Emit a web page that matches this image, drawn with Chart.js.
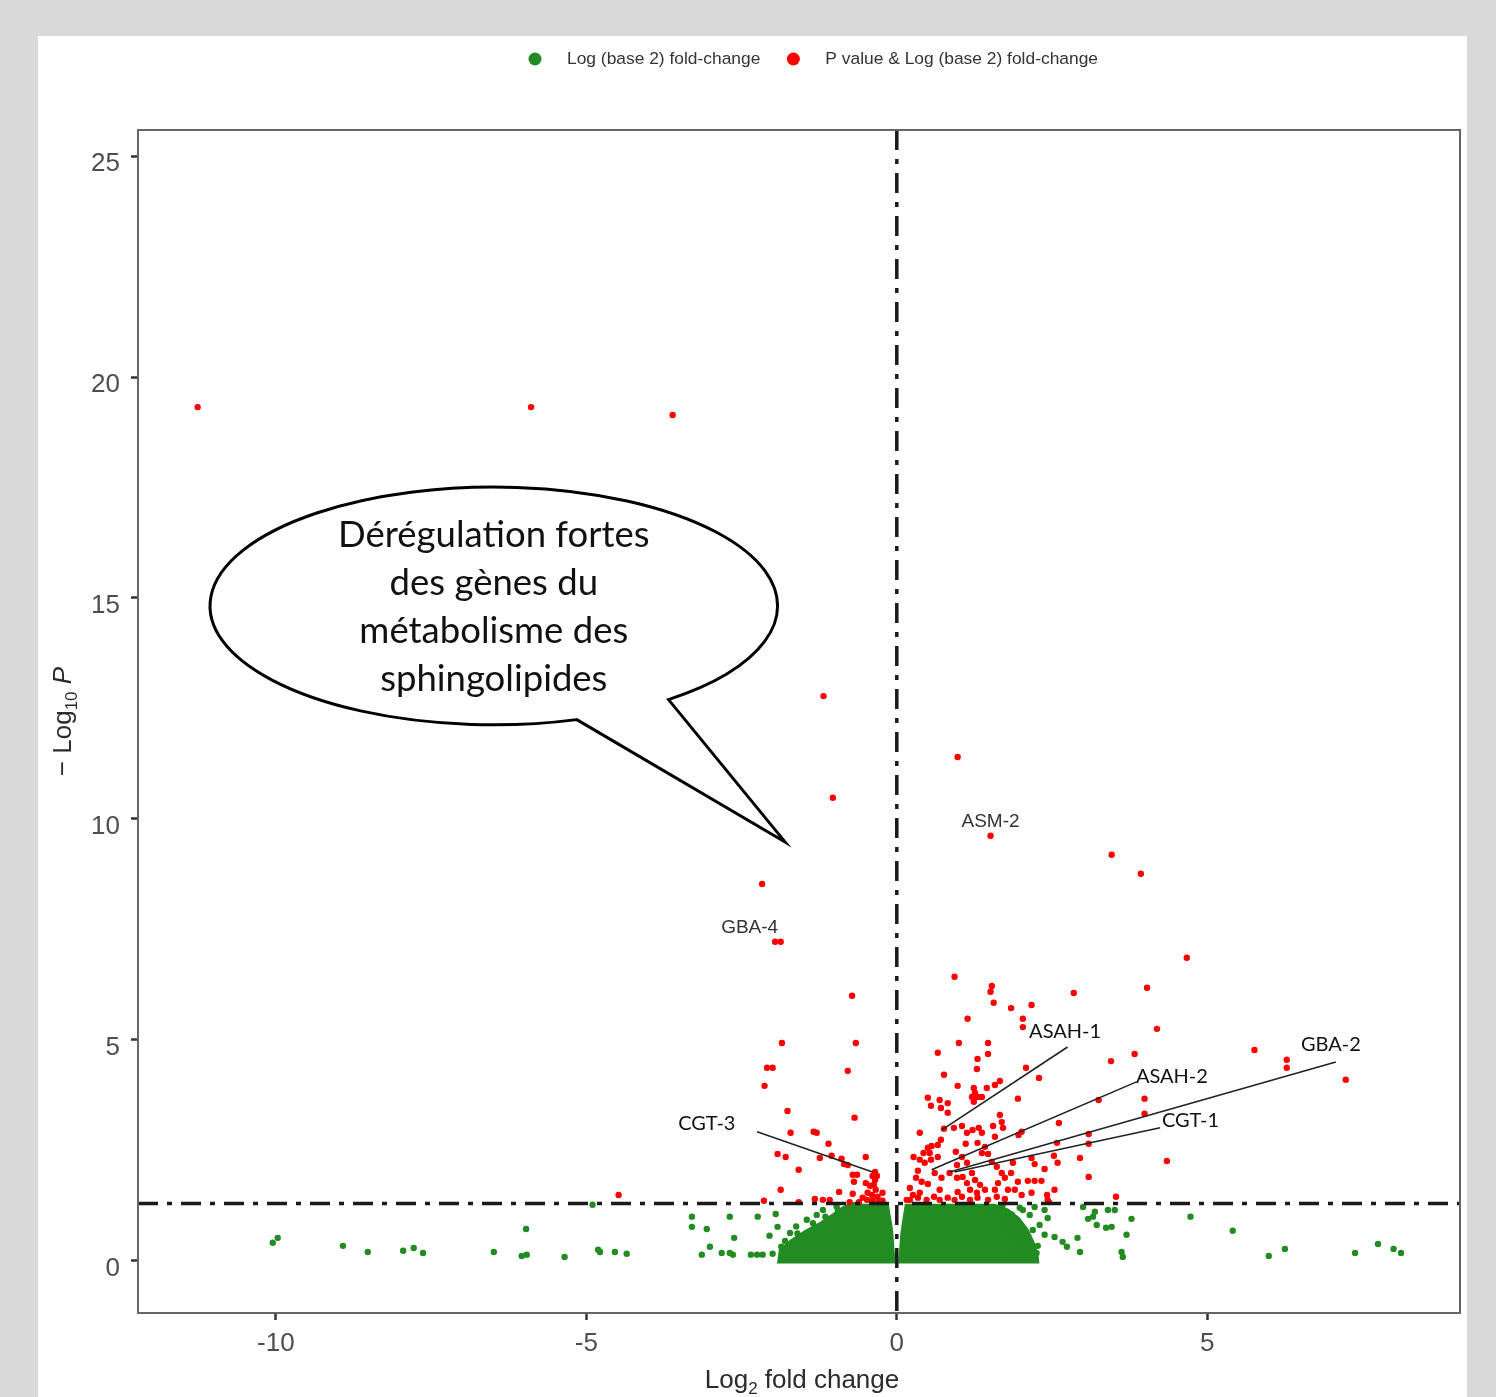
<!DOCTYPE html>
<html lang="fr">
<head>
  <meta charset="UTF-8">
  <title>Volcano plot</title>
  <script src="https://cdn.jsdelivr.net/npm/chart.js"></script>
  <style>
    body { margin: 0; background: #d9d9d9; }
    #panel { position: absolute; left: 38px; top: 36px; width: 1429px; height: 1361px; background: #fff; }
    #volcano { position: absolute; left: 0; top: 0; }
  </style>
</head>
<body>
  <div id="panel"></div>
  <canvas id="volcano" width="1496" height="1397"></canvas>
  <script>
    // axes
    const xMin = -12.22, xMax = 9.07;
    const yMin = -1.18, yMax = 25.59;
    const xTicks = [-10, -5, 0, 5];
    const yTicks = [0, 5, 10, 15, 20, 25];
    const pCutoff = 1.30;   // -log10(0.05)
    const fcCutoff = 0;

    const legendLabels = ['Log (base 2) fold-change', 'P value & Log (base 2) fold-change'];

    // significant genes (red): log2 fold change / -log10 P
    const redFC = [
      -11.26, -5.89, -3.61, -1.18, 0.98, -1.03, 1.51, 3.46, 3.93, -2.17,
      -1.96, -1.87, 4.67, 0.93, 1.53, 1.51, 2.85, -0.72, 4.03, 1.56,
      1.84, 2.17, 1.14, 2.03, 2.03, 4.19, -1.85, -0.66, 0.66, 1.00,
      1.47, 1.47, 5.76, 3.83, 6.28, 6.28, 7.23, -2.09, -2.00, -0.79,
      -2.13, 3.45, 1.30, 1.29, 0.76, 2.08, 2.29, 0.98, 1.24, 1.26,
      1.21, 1.30, 1.24, 1.37, 1.45, 1.58, 1.66, 0.50, 0.55, 0.69,
      0.82, 0.71, 0.82, 1.95, 1.66, 1.69, 1.71, 0.37, 0.76, 0.92,
      1.05, 1.13, 1.22, 1.32, 1.37, 1.55, 1.58, 2.01, 1.96, 2.61,
      0.71, 0.66, 0.50, 0.43, 0.53, 0.27, 0.37, 0.45, 0.55, 0.66,
      1.11, 1.30, 1.42, 1.37, 1.47, 0.95, 1.05, 1.13, 0.97, 1.53,
      1.61, 1.69, 1.74, 1.87, 1.84, 2.17, 2.22, 2.38, 2.58, 2.53,
      2.59, 0.34, 0.31, 0.40, 0.50, 0.61, 0.72, 0.85, 0.97, 1.06,
      1.13, 1.21, 1.26, 1.34, 1.42, 1.58, 1.63, 1.79, 1.95, 2.11,
      2.22, 2.33, 1.90, 2.01, 2.17, 2.42, 2.54, 0.21, 0.34, 0.48,
      0.60, 0.69, 0.82, 0.93, 1.05, 1.18, 1.30, 1.47, 1.61, 1.74,
      2.43, 2.45, 0.37, 0.69, 0.98, 1.18, 1.29, 2.95, 4.35, 3.99,
      3.99, 3.25, 3.09, 3.09, 3.09, 3.53, 0.56, 0.26, 0.21, 0.16,
      -1.76, -0.68, -1.71, -1.34, -1.29, -1.10, -1.92, -1.79, -1.24, -1.05,
      -0.89, -0.50, -0.79, -0.85, -1.58, -0.35, -0.39, -0.32, -0.71, -0.64,
      -0.69, -0.35, -0.37, -0.34, -1.87, -0.93, -0.71, -0.47, -0.40, -0.31,
      -0.23, -0.55, -0.48, -0.39, -0.29, -0.23, -2.14, -1.58, -1.32, -1.19,
      -1.08, -0.76, -0.61, -4.48, -0.43, -0.50
    ];
    const redLogP = [
      19.32, 19.32, 19.14, 12.78, 11.40, 10.48, 9.62, 9.19, 8.76, 8.53,
      7.22, 7.22, 6.86, 6.43, 6.22, 6.09, 6.06, 6.00, 6.18, 5.84,
      5.72, 5.79, 5.48, 5.48, 5.29, 5.25, 4.93, 4.93, 4.71, 4.93,
      4.93, 4.68, 4.77, 4.68, 4.55, 4.37, 4.10, 4.37, 4.37, 4.30,
      3.96, 4.52, 4.57, 4.34, 4.21, 4.37, 4.14, 3.96, 3.91, 3.80,
      3.71, 3.71, 3.60, 3.71, 3.91, 3.98, 4.07, 3.69, 3.51, 3.64,
      3.57, 3.46, 3.35, 3.67, 3.30, 3.14, 3.01, 2.90, 2.99, 3.01,
      3.05, 2.90, 2.96, 3.01, 2.90, 3.05, 2.81, 2.92, 2.85, 3.12,
      2.74, 2.62, 2.56, 2.44, 2.44, 2.35, 2.29, 2.22, 2.29, 2.35,
      2.65, 2.67, 2.58, 2.44, 2.42, 2.47, 2.35, 2.22, 2.17, 2.24,
      2.13, 1.99, 1.88, 2.22, 1.99, 2.33, 2.19, 2.08, 2.67, 2.38,
      2.22, 2.04, 1.88, 1.79, 1.74, 1.99, 1.88, 1.99, 1.88, 1.90,
      1.76, 1.99, 1.83, 1.72, 1.61, 1.61, 1.76, 1.61, 1.79, 1.81,
      1.81, 1.81, 1.61, 1.49, 1.54, 1.49, 1.61, 1.38, 1.43, 1.38,
      1.45, 1.38, 1.43, 1.38, 1.45, 1.38, 1.43, 1.38, 1.45, 1.40,
      1.38, 1.33, 1.54, 1.61, 1.56, 1.61, 1.54, 2.33, 2.26, 3.67,
      3.33, 3.64, 2.87, 2.65, 1.90, 1.45, 2.60, 1.49, 1.65, 1.38,
      3.39, 3.24, 2.90, 2.92, 2.90, 2.65, 2.42, 2.35, 2.33, 2.38,
      2.31, 2.35, 2.17, 2.19, 2.06, 2.01, 1.92, 1.92, 1.95, 1.95,
      1.79, 1.83, 1.72, 1.61, 1.61, 1.56, 1.52, 1.54, 1.49, 1.45,
      1.54, 1.43, 1.38, 1.36, 1.33, 1.36, 1.36, 1.33, 1.40, 1.38,
      1.38, 1.33, 1.33, 1.49, 1.70, 1.76
    ];

    // non significant genes (green), the scattered ones
    const greenFC = [
      -10.05, -9.97, -8.92, -8.52, -7.95, -7.78, -7.63, -6.49, -6.04, -5.96,
      -5.97, -5.35, -4.81, -4.78, -4.54, -4.35, -4.90, -3.30, -3.30, -3.06,
      -2.69, -2.62, -2.69, -2.64, -3.14, -3.01, -2.82, -2.24, -2.35, -2.25,
      -2.16, -2.05, -2.00, -1.95, -1.92, -1.72, -1.62, -1.45, -1.29, -1.19,
      -0.97, -1.86, -1.80, -1.60, -1.35, -1.15, -0.95, -0.70,
      2.43, 2.54, 2.67, 2.74, 2.91, 2.95, 3.00, 3.16, 3.22, 3.40,
      3.51, 3.46, 3.78, 3.62, 3.64, 3.70, 3.19, 3.08, 3.37, 4.73,
      5.41, 5.99, 6.25, 7.38, 7.75, 8.00, 8.12, 1.66, 1.79, 1.93,
      1.55, 2.14, 2.30, 2.38, 2.27, 2.06, 1.98, 2.22, 2.38, 2.03,
      2.19, 2.25, 1.93, 1.70, 1.85, 2.00, 2.10, 2.15, 2.18
    ];
    const greenLogP = [
      0.41, 0.52, 0.34, 0.20, 0.23, 0.29, 0.18, 0.20, 0.11, 0.14,
      0.72, 0.09, 0.25, 0.20, 0.20, 0.16, 1.27, 1.00, 0.77, 0.72,
      1.00, 0.52, 0.18, 0.14, 0.14, 0.32, 0.18, 1.00, 0.14, 0.14,
      0.14, 0.57, 0.16, 1.06, 0.77, 0.63, 0.78, 0.93, 1.04, 1.15,
      1.23, 0.32, 0.45, 0.62, 0.85, 1.00, 1.15, 1.26,
      0.97, 0.54, 0.43, 0.32, 0.52, 0.20, 1.22, 1.00, 0.81, 1.15,
      1.15, 0.77, 0.95, 0.20, 0.09, 0.59, 1.11, 0.95, 0.75, 1.00,
      0.68, 0.11, 0.27, 0.18, 0.38, 0.27, 0.18, 1.09, 0.86, 0.63,
      1.15, 1.04, 0.81, 0.59, 0.34, 0.25, 1.20, 1.22, 1.15, 1.15,
      0.70, 0.18, 0.18, 1.25, 1.05, 0.80, 0.55, 0.30, 0.10
    ];

    // outline of the dense green mass (thousands of overlapping points)
    const coreLeftFC = [-1.93, -1.90, -1.72, -1.48, -1.24, -1.05, -0.89, -0.79, -0.13, -0.06, -0.02];
    const coreLeftLogP = [-0.06, 0.25, 0.48, 0.70, 0.88, 1.06, 1.22, 1.29, 1.29, 0.70, -0.06];
    const coreRightFC = [0.02, 0.06, 0.13, 1.58, 1.80, 1.98, 2.12, 2.22, 2.28, 2.30];
    const coreRightLogP = [-0.06, 0.66, 1.29, 1.29, 1.18, 0.98, 0.72, 0.42, 0.15, -0.06];

    // gene labels
    const plainNames = ['ASM-2', 'GBA-4'];
    const plainFC = [1.51, -2.37];
    const plainLogP = [9.93, 7.53];
    const linkedNames = ['ASAH-1', 'ASAH-2', 'CGT-1', 'GBA-2', 'CGT-3'];
    const linkedFC = [2.71, 4.43, 4.73, 6.99, -3.06];
    const linkedLogP = [5.20, 4.16, 3.17, 4.89, 3.10];
    const linkFromFC = [2.75, 3.86, 4.24, 7.07, -2.25];
    const linkFromLogP = [4.84, 4.05, 3.01, 4.50, 2.92];
    const linkToFC = [0.72, 0.56, 0.93, 0.85, -0.39];
    const linkToLogP = [2.96, 2.06, 2.01, 2.01, 2.01];

    const bubbleText = ['Dérégulation fortes', 'des gènes du', 'métabolisme des', 'sphingolipides'];

    const toPoints = (xs, ys) => xs.map((v, i) => ({ x: v, y: ys[i] }));

    Chart.defaults.font.family = '"Liberation Sans", Arial, sans-serif';

    const overlay = {
      id: 'overlay',
      afterDatasetsDraw(chart) {
        const { ctx, chartArea: a, scales: { x, y } } = chart;
        ctx.save();

        // panel frame
        ctx.strokeStyle = '#666';
        ctx.lineWidth = 2;
        ctx.strokeRect(a.left, a.top, a.right - a.left, a.bottom - a.top);

        // connectors
        ctx.strokeStyle = '#222';
        ctx.lineWidth = 1.6;
        linkedNames.forEach((n, i) => {
          ctx.beginPath();
          ctx.moveTo(x.getPixelForValue(linkFromFC[i]), y.getPixelForValue(linkFromLogP[i]));
          ctx.lineTo(x.getPixelForValue(linkToFC[i]), y.getPixelForValue(linkToLogP[i]));
          ctx.stroke();
        });

        ctx.textAlign = 'center';
        ctx.textBaseline = 'middle';
        ctx.fillStyle = '#333';
        ctx.font = '19px "Liberation Sans", Arial, sans-serif';
        plainNames.forEach((n, i) => {
          ctx.fillText(n, x.getPixelForValue(plainFC[i]), y.getPixelForValue(plainLogP[i]));
        });
        ctx.fillStyle = '#111';
        ctx.font = '20px Lato, "Open Sans", sans-serif';
        linkedNames.forEach((n, i) => {
          ctx.fillText(n, x.getPixelForValue(linkedFC[i]), y.getPixelForValue(linkedLogP[i]));
        });

        // speech bubble
        const cx = x.getPixelForValue(-6.49), cy = y.getPixelForValue(14.82);
        const rx = x.getPixelForValue(-6.49 + 4.57) - cx;
        const ry = cy - y.getPixelForValue(14.82 + 2.69);
        const tipX = x.getPixelForValue(-1.80), tipY = y.getPixelForValue(9.48);
        ctx.beginPath();
        ctx.ellipse(cx, cy, rx, ry, 0, 73 * Math.PI / 180, 52 * Math.PI / 180, false);
        ctx.lineTo(tipX, tipY);
        ctx.closePath();
        ctx.fillStyle = '#fff';
        ctx.fill();
        ctx.strokeStyle = '#000';
        ctx.lineWidth = 3;
        ctx.stroke();

        ctx.fillStyle = '#111';
        ctx.font = '36.5px Lato, "Open Sans", sans-serif';
        ctx.textBaseline = 'alphabetic';
        bubbleText.forEach((t, i) => {
          ctx.fillText(t, cx, cy + (i - 1.5) * 48 + 13);
        });
        ctx.restore();
      },
      afterDraw(chart) {
        const { ctx, chartArea: a } = chart;
        ctx.save();
        const ff = '"Liberation Sans", Arial, sans-serif';

        // legend
        ctx.font = '17.4px ' + ff;
        ctx.textBaseline = 'middle';
        ctx.textAlign = 'left';
        const colors = ['#228b22', '#ff0000'];
        let lx = 528;
        legendLabels.forEach((t, i) => {
          ctx.fillStyle = colors[i];
          ctx.beginPath();
          ctx.arc(lx + 7, 59, 6.5, 0, 2 * Math.PI);
          ctx.fill();
          ctx.fillStyle = '#333';
          ctx.fillText(t, lx + 39, 59);
          lx += 39 + ctx.measureText(t).width + 26;
        });

        // axis titles with subscripts
        const drawParts = (parts, cxp, base) => {
          let w = 0;
          parts.forEach(p => { ctx.font = p.f; w += ctx.measureText(p.t).width; });
          let px = cxp - w / 2;
          parts.forEach(p => {
            ctx.font = p.f;
            ctx.fillText(p.t, px, base + (p.dy || 0));
            px += ctx.measureText(p.t).width;
          });
        };
        ctx.fillStyle = '#2b2b2b';
        ctx.textBaseline = 'alphabetic';
        drawParts([
          { t: 'Log', f: '26px ' + ff },
          { t: '2', f: '17px ' + ff, dy: 6 },
          { t: ' fold change', f: '26px ' + ff }
        ], (a.left + a.right) / 2 + 3, 1388);

        ctx.translate(71, (a.top + a.bottom) / 2);
        ctx.rotate(-Math.PI / 2);
        drawParts([
          { t: '\u2212 Log', f: '26px ' + ff },
          { t: '10', f: '17px ' + ff, dy: 6 },
          { t: ' ', f: '26px ' + ff },
          { t: 'P', f: 'italic 26px ' + ff }
        ], 0, 0);
        ctx.restore();
      }
    };

    const axisGrid = { drawOnChartArea: false, tickLength: 7, tickColor: '#333', tickWidth: 2.5 };

    new Chart(document.getElementById('volcano'), {
      type: 'scatter',
      data: {
        datasets: [
          {
            type: 'line', label: 'P cutoff',
            data: [{ x: xMin, y: pCutoff }, { x: xMax, y: pCutoff }],
            borderColor: '#1a1a1a', borderWidth: 3.5, borderDash: [20, 9, 5, 9],
            pointRadius: 0, order: 0
          },
          {
            type: 'line', label: 'FC cutoff',
            data: [{ x: fcCutoff, y: yMax }, { x: fcCutoff, y: yMin }],
            borderColor: '#1a1a1a', borderWidth: 3.5, borderDash: [20, 9, 5, 9],
            pointRadius: 0, order: 0
          },
          {
            label: legendLabels[1],
            data: toPoints(redFC, redLogP),
            backgroundColor: '#ff0000', borderColor: '#ff0000',
            pointRadius: 3.2, borderWidth: 0, order: 1
          },
          {
            label: legendLabels[0],
            data: toPoints(greenFC, greenLogP),
            backgroundColor: '#228b22', borderColor: '#228b22',
            pointRadius: 3.2, borderWidth: 0, order: 2
          },
          {
            type: 'line', label: 'dense left',
            data: toPoints(coreLeftFC, coreLeftLogP),
            fill: { value: -0.06 }, backgroundColor: '#228b22',
            borderWidth: 0, pointRadius: 0, tension: 0, order: 3
          },
          {
            type: 'line', label: 'dense right',
            data: toPoints(coreRightFC, coreRightLogP),
            fill: { value: -0.06 }, backgroundColor: '#228b22',
            borderWidth: 0, pointRadius: 0, tension: 0, order: 3
          }
        ]
      },
      options: {
        responsive: false,
        animation: false,
        layout: { padding: { left: 0, right: 36, top: 130, bottom: 0 } },
        plugins: { legend: { display: false }, tooltip: { enabled: false } },
        scales: {
          x: {
            type: 'linear', min: xMin, max: xMax,
            afterFit: s => { s.height = 84; },
            afterBuildTicks: s => { s.ticks = xTicks.map(v => ({ value: v })); },
            grid: axisGrid,
            border: { display: false },
            ticks: { font: { size: 26 }, color: '#4d4d4d', padding: 8, maxRotation: 0 }
          },
          y: {
            type: 'linear', min: yMin, max: yMax,
            afterFit: s => { s.width = 138; },
            afterBuildTicks: s => { s.ticks = yTicks.map(v => ({ value: v })); },
            grid: axisGrid,
            border: { display: false },
            ticks: { font: { size: 26 }, color: '#4d4d4d', padding: 11, labelOffset: 8 }
          }
        }
      },
      plugins: [overlay]
    });
  </script>
</body>
</html>
